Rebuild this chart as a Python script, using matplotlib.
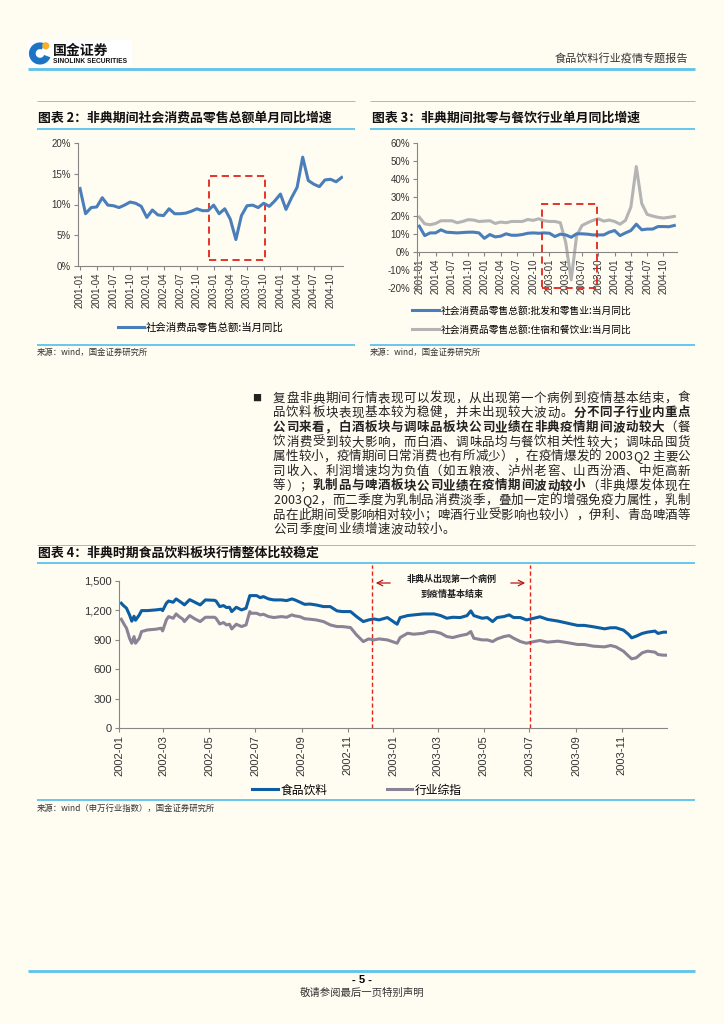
import matplotlib as mpl
mpl.use('Agg')
import matplotlib.pyplot as plt
from matplotlib.lines import Line2D
from matplotlib.patches import Rectangle, Wedge, Circle
from matplotlib.ticker import FuncFormatter
import matplotlib.dates as mdates
import pandas as pd
import numpy as np

plt.rcParams['font.family'] = ['Noto Sans CJK SC', 'DejaVu Sans']

# ---------------- data ----------------
m_ticklabels = ['2001-01', '2001-04', '2001-07', '2001-10', '2002-01', '2002-04', '2002-07', '2002-10',
                '2003-01', '2003-04', '2003-07', '2003-10', '2004-01', '2004-04', '2004-07', '2004-10']

retail_yoy = [12.6, 8.5, 9.5, 9.6, 11.1, 9.9, 9.8, 9.5, 9.9, 10.4, 10.2, 9.7,
              7.9, 9.1, 8.3, 8.2, 9.3, 8.5, 8.5, 8.6, 8.9, 9.3, 9.0, 9.0,
              9.9, 8.5, 9.3, 7.6, 4.3, 8.2, 9.8, 9.9, 9.5, 10.2, 9.7, 10.6,
              11.7, 9.2, 11.1, 12.8, 17.7, 13.9, 13.3, 12.9, 14.0, 14.1, 13.7, 14.4]

wholesale_yoy = [14.1, 8.9, 10.4, 10.4, 12.1, 10.8, 10.6, 10.4, 10.6, 10.8, 10.8, 10.4,
                 7.4, 9.5, 8.2, 8.6, 9.9, 9.1, 9.1, 9.5, 10.2, 10.4, 10.2, 10.4,
                 10.2, 8.4, 9.7, 9.3, 8.0, 9.9, 9.9, 9.7, 9.3, 9.3, 9.3, 10.8,
                 11.7, 8.9, 10.4, 11.7, 15.2, 12.1, 12.5, 12.5, 13.9, 13.9, 13.8, 14.5]

catering_yoy = [19.1, 15.4, 14.9, 15.6, 17.1, 17.1, 17.1, 16.0, 16.7, 17.7, 17.5, 16.7,
                16.9, 17.1, 15.6, 16.4, 16.0, 16.7, 16.7, 16.7, 17.8, 17.3, 18.2, 17.1,
                16.7, 16.7, 16.0, 5.0, -15.5, 8.9, 14.5, 16.0, 17.3, 18.2, 16.9, 17.5,
                16.7, 15.2, 17.3, 24.7, 47.0, 26.6, 20.6, 19.7, 19.0, 18.6, 19.0, 19.5]

idx_dates = ['2002-01-04', '2002-01-07', '2002-01-11', '2002-01-15', '2002-01-18', '2002-01-21', '2002-01-23',
             '2002-01-28', '2002-01-31', '2002-02-08', '2002-02-19', '2002-02-26', '2002-02-28', '2002-03-05',
             '2002-03-08', '2002-03-14', '2002-03-18', '2002-03-22', '2002-03-27', '2002-03-29', '2002-04-05',
             '2002-04-12', '2002-04-19', '2002-04-26', '2002-05-08', '2002-05-10', '2002-05-15', '2002-05-20',
             '2002-05-24', '2002-05-28', '2002-05-31', '2002-06-06', '2002-06-13', '2002-06-19', '2002-06-24',
             '2002-06-26', '2002-07-03', '2002-07-08', '2002-07-12', '2002-07-19', '2002-07-26', '2002-08-05',
             '2002-08-12', '2002-08-19', '2002-08-23', '2002-08-30', '2002-09-05', '2002-09-12', '2002-09-20',
             '2002-09-30', '2002-10-09', '2002-10-18', '2002-10-25', '2002-11-05', '2002-11-13', '2002-11-22',
             '2002-11-29', '2002-12-06', '2002-12-13', '2002-12-24', '2003-01-06', '2003-01-10', '2003-01-20',
             '2003-01-28', '2003-02-10', '2003-02-17', '2003-02-24', '2003-03-05', '2003-03-13', '2003-03-21',
             '2003-03-31', '2003-04-09', '2003-04-14', '2003-04-18', '2003-04-29', '2003-05-06', '2003-05-13',
             '2003-05-19', '2003-05-28', '2003-06-04', '2003-06-10', '2003-06-19', '2003-06-27', '2003-07-07',
             '2003-07-15', '2003-07-25', '2003-08-08', '2003-08-22', '2003-09-03', '2003-09-12', '2003-09-24',
             '2003-10-09', '2003-10-17', '2003-10-24', '2003-11-03', '2003-11-10', '2003-11-14', '2003-11-20',
             '2003-11-28', '2003-12-05', '2003-12-15', '2003-12-19', '2003-12-26', '2003-12-31']

food_bev = [1273, 1249, 1222, 1154, 1090, 1140, 1100, 1154, 1198,
            1198, 1205, 1212, 1198,
            1273, 1296, 1283, 1317, 1296, 1269, 1256,
            1310, 1283, 1256, 1307,
            1303, 1296, 1239, 1249, 1229, 1232, 1188,
            1232, 1205, 1222, 1351, 1351,
            1351, 1330, 1341, 1317, 1307,
            1307, 1300, 1317, 1307, 1283,
            1262, 1265, 1256, 1239,
            1239, 1195, 1188,
            1188, 1137, 1086, 1103,
            1113, 1103, 1127,
            1059, 1127, 1147, 1154,
            1164, 1164, 1164,
            1147, 1120, 1130, 1127,
            1147, 1195, 1147, 1120,
            1127, 1086, 1127, 1137,
            1154, 1127, 1127, 1103,
            1120, 1135, 1108,
            1091, 1067,
            1047, 1047, 1033,
            1012, 1023, 1023,
            999, 955, 920, 937, 965,
            978, 989, 965, 978, 978]

all_ind = [1110, 1069, 1018, 916, 865, 933, 865, 916, 984,
           1001, 1008, 1018, 991,
           1103, 1137, 1120, 1164, 1137, 1110, 1086,
           1147, 1113, 1086, 1130,
           1130, 1120, 1062, 1076, 1052, 1059, 1011,
           1059, 1035, 1052, 1188, 1171,
           1171, 1154, 1161, 1137, 1127,
           1137, 1130, 1154, 1144, 1135,
           1115, 1110, 1103, 1086,
           1052, 1035, 1035,
           1025, 950, 882, 909,
           899, 909, 899,
           865, 923, 967, 957,
           967, 984, 984,
           967, 933, 923, 943,
           957, 984, 916, 899,
           899, 882, 909, 933,
           943, 916, 882, 865,
           882, 893, 876,
           886, 869,
           852, 852, 835,
           828, 842, 828,
           784, 733, 706, 716, 767,
           784, 774, 750, 743, 743]

sars_start, sars_end = '2002-12-03', '2003-07-02'

body_lines = [
    [('复盘非典期间行情表现可以发现，从出现第一个病例到疫情基本结束，食', False)],
    [('品饮料板块表现基本较为稳健，并未出现较大波动。', False), ('分不同子行业内重点', True)],
    [('公司来看，白酒板块与调味品板块公司业绩在非典疫情期间波动较大', True), ('（餐', False)],
    [('饮消费受到较大影响，而白酒、调味品均与餐饮相关性较大；调味品囤货', False)],
    [('属性较小，疫情期间日常消费也有所减少），在疫情爆发的 2003Q2 主要公', False)],
    [('司收入、利润增速均为负值（如五粮液、泸州老窖、山西汾酒、中炬高新', False)],
    [('等）；', False), ('乳制品与啤酒板块公司业绩在疫情期间波动较小', True), ('（非典爆发体现在', False)],
    [('2003Q2，而二季度为乳制品消费淡季，叠加一定的增强免疫力属性，乳制', False)],
    [('品在此期间受影响相对较小；啤酒行业受影响也较小），伊利、青岛啤酒等', False)],
    [('公司季度间业绩增速波动较小。', False)],
]

# ---------------- page ----------------
W, H = 724, 1024
BG = '#FFFCF2'
LBLUE = '#5BC3EC'
RED = '#E3231B'
TXT = '#222222'
AXC = '#868686'
LAT = 'Liberation Sans'

def fx(x):
    return x / W

def fy(y):
    return 1 - y / H

fig = plt.figure(figsize=(7.24, 10.24), dpi=100, facecolor=BG)

def hline(y, x0, x1, lw, color=LBLUE):
    fig.add_artist(Line2D([fx(x0), fx(x1)], [fy(y), fy(y)], transform=fig.transFigure,
                          color=color, lw=lw, solid_capstyle='butt'))

# header
fig.add_artist(Rectangle((fx(28), fy(66)), 104 / W, 26 / H, transform=fig.transFigure,
                         facecolor='white', edgecolor='none', zorder=-5))
lax = fig.add_axes([fx(28), fy(66), 24 / W, 26 / H], zorder=5)
lax.set_xlim(0, 1)
lax.set_ylim(0, 1)
lax.set_aspect('equal')
lax.axis('off')
lax.add_patch(Wedge((0.5, 0.48), 0.46, 65, 340, width=0.28, facecolor='#1C74C4', edgecolor='none'))
lax.add_patch(Circle((0.74, 0.80), 0.15, facecolor='#F4B12A', edgecolor='none'))
fig.text(fx(53), fy(51), '国金证券', fontsize=10, fontweight='bold', color='#111111', va='center')
fig.text(fx(53), fy(61.5), 'SINOLINK SECURITIES', fontsize=4.8, fontweight='bold', family=LAT,
         color='#111111', va='center')
fig.text(fx(688), fy(58), '食品饮料行业疫情专题报告', fontsize=8, color='#333333', ha='right', va='center')
hline(69, 28, 695, 2.0)

# block frames
for (x0, x1) in [(37, 355), (370, 695)]:
    hline(101, x0, x1, 0.6)
    hline(129, x0, x1, 1.3)
    hline(345, x0, x1, 1.3)
    fig.text(fx(x0), fy(352), '来源：wind，国金证券研究所', fontsize=6, color='#333333', va='center')
fig.text(fx(38), fy(118), '图表 2：非典期间社会消费品零售总额单月同比增速', fontsize=9.3,
         fontweight='bold', style='italic', color='#111111', va='center')
fig.text(fx(372), fy(118), '图表 3：非典期间批零与餐饮行业单月同比增速', fontsize=9.3,
         fontweight='bold', style='italic', color='#111111', va='center')

hline(545, 37, 695, 0.6)
hline(563, 37, 695, 1.3)
hline(800, 37, 695, 1.3)
fig.text(fx(38), fy(553), '图表 4：非典时期食品饮料板块行情整体比较稳定', fontsize=9.3,
         fontweight='bold', style='italic', color='#111111', va='center')
fig.text(fx(37), fy(808), '来源：wind（申万行业指数），国金证券研究所', fontsize=6, color='#333333', va='center')

# footer
hline(971, 28, 695, 2.0)
fig.text(0.5, fy(980), '- 5 -', fontsize=8, fontweight='bold', family=LAT, ha='center', va='center')
fig.text(0.5, fy(993), '敬请参阅最后一页特别声明', fontsize=7.5, color='#333333', ha='center', va='center')


def style_axes(ax, ysize=7):
    ax.set_facecolor('none')
    for s in ['top', 'right']:
        ax.spines[s].set_visible(False)
    for s in ['left', 'bottom']:
        ax.spines[s].set_color(AXC)
        ax.spines[s].set_linewidth(0.8)
    ax.tick_params(axis='both', colors=AXC, labelcolor='#333333', length=3, width=0.8,
                   labelsize=ysize, pad=2, labelfontfamily=LAT)
    ax.tick_params(axis='x', labelrotation=90)


# chart 2
ax2 = fig.add_axes([fx(78), fy(266), (343 - 78) / W, (266 - 143) / H])
x_m = np.arange(len(retail_yoy))
ax2.plot(x_m, retail_yoy, color='#4A7EBB', lw=2.2, label='社会消费品零售总额:当月同比')
ax2.set_xlim(-0.36, 47.24)
ax2.set_ylim(0, 20)
ax2.set_yticks([0, 5, 10, 15, 20])
ax2.yaxis.set_major_formatter(FuncFormatter(lambda v, p: f'{v:.0f}%'))
ax2.set_xticks(x_m[::3])
ax2.set_xticklabels(m_ticklabels)
ax2.add_patch(Rectangle((23.2, 0.9), 10.0, 13.7, fill=False, edgecolor=RED, lw=1.3,
                        ls=(0, (4, 2.5))))
style_axes(ax2)
ax2.legend(loc='center', bbox_to_anchor=(fx(201), fy(327)), bbox_transform=fig.transFigure,
           frameon=False, fontsize=7.5, handlelength=2.5, handletextpad=0.2)

# chart 3
ax3 = fig.add_axes([fx(417), fy(288), (677 - 417) / W, (288 - 143) / H])
ax3.spines['bottom'].set_position(('data', 0))
ax3.plot(x_m, wholesale_yoy, color='#4A7EBB', lw=2.2, label='社会消费品零售总额:批发和零售业:当月同比', zorder=3)
ax3.plot(x_m, catering_yoy, color='#B4B4B4', lw=2.2, label='社会消费品零售总额:住宿和餐饮业:当月同比', zorder=2)
ax3.set_xlim(-0.42, 47.5)
ax3.set_ylim(-20, 60)
ax3.set_yticks(range(-20, 61, 10))
ax3.yaxis.set_major_formatter(FuncFormatter(lambda v, p: f'{v:.0f}%'))
ax3.set_xticks(x_m[::3])
ax3.set_xticklabels(m_ticklabels)
ax3.add_patch(Rectangle((22.6, -20), 10.2, 46.2, fill=False, edgecolor=RED, lw=1.3,
                        ls=(0, (4, 2.5)), clip_on=False, zorder=4))
style_axes(ax3)
ax3.legend(loc='center left', bbox_to_anchor=(fx(412), fy(320)), bbox_transform=fig.transFigure,
           frameon=False, fontsize=7, handlelength=2.8, handletextpad=0.2, labelspacing=0.9,
           borderpad=0, borderaxespad=0)

# body text
renderer = fig.canvas.get_renderer()
fig.text(fx(257), fy(398), '■', fontsize=6.5, color='#222222', ha='center', va='center')


def draw_line(segs, x0, x1, y, size, gap=None):
    texts, widths = [], []
    for s, b in segs:
        for ch in s:
            t = fig.text(0, fy(y), ch, fontsize=size, fontweight='bold' if b else 'normal',
                         color=TXT, ha='left', va='center')
            texts.append(t)
            widths.append(t.get_window_extent(renderer).width)
    if gap is None:
        gap = (x1 - x0 - sum(widths)) / (len(texts) - 1)
    x = x0
    for t, w in zip(texts, widths):
        t.set_x(fx(x))
        x += w + gap
    return gap


gaps = []
for i, segs in enumerate(body_lines):
    y = 398.3 + i * 14.6
    if i < len(body_lines) - 1:
        gaps.append(draw_line(segs, 273, 690, y, 9))
    else:
        draw_line(segs, 273, 690, y, 9, gap=float(np.median(gaps)))

# chart 4
ax4 = fig.add_axes([fx(119), fy(728), (667 - 119) / W, (728 - 581) / H])
d4 = pd.to_datetime(idx_dates)
ax4.plot(d4, all_ind, color='#8C8296', lw=2.2, label='行业综指')
ax4.plot(d4, food_bev, color='#0D5DA3', lw=2.2, label='食品饮料')
ax4.set_xlim(pd.Timestamp('2002-01-01'), pd.Timestamp('2003-12-31'))
ax4.set_ylim(0, 1500)
ax4.set_yticks(range(0, 1501, 300))
ax4.yaxis.set_major_formatter(FuncFormatter(lambda v, p: f'{v:,.0f}'))
ax4.set_xticks(pd.date_range('2002-01-01', '2003-11-01', freq='2MS'))
ax4.xaxis.set_major_formatter(mdates.DateFormatter('%Y-%m'))
for d in [sars_start, sars_end]:
    ax4.axvline(pd.Timestamp(d), ymin=0, ymax=1.11, color=RED, lw=1.0, ls=(0, (3, 2)), clip_on=False)
style_axes(ax4, ysize=8)
h, l = ax4.get_legend_handles_labels()
ax4.legend(h[::-1], l[::-1], ncol=2, loc='center', bbox_to_anchor=(fx(357), fy(790)),
           bbox_transform=fig.transFigure, frameon=False, fontsize=8.5, handlelength=2.2,
           handletextpad=0.2, columnspacing=5.0)

ann_c = '#B01A1A'
fig.text(fx(452), fy(579), '非典从出现第一个病例', fontsize=6.5, fontweight='bold', color='#222222',
         ha='center', va='center')
fig.text(fx(452), fy(594), '到疫情基本结束', fontsize=6.5, fontweight='bold', color='#222222',
         ha='center', va='center')
ax4.annotate('', xy=(fx(373), fy(583)), xytext=(fx(393), fy(583)), xycoords='figure fraction',
             textcoords='figure fraction', arrowprops=dict(arrowstyle='->', color=ann_c, lw=0.9))
ax4.annotate('', xy=(fx(528), fy(583)), xytext=(fx(508), fy(583)), xycoords='figure fraction',
             textcoords='figure fraction', arrowprops=dict(arrowstyle='->', color=ann_c, lw=0.9))

fig.savefig('out.png', dpi=100, facecolor=BG)
